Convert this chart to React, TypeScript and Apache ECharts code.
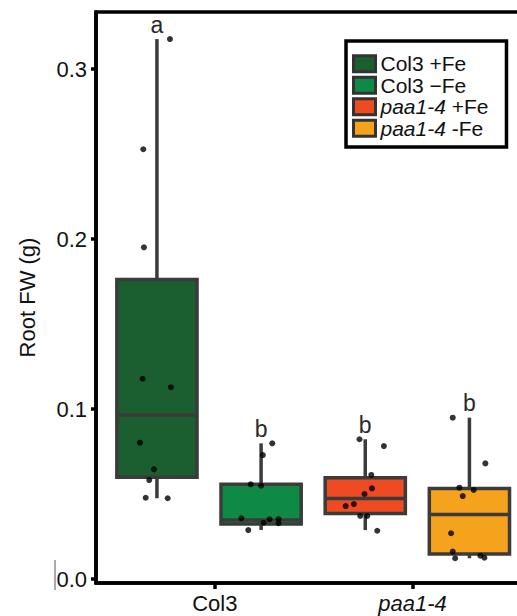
import React, { useEffect, useRef } from "react";
import * as echarts from "echarts";

// ---- data ----
const groupNames = ["Col3 +Fe", "Col3 −Fe", "paa1-4 +Fe", "paa1-4 -Fe"];
const groupColors = ["#1b5e30", "#0e8a45", "#ee4b23", "#f5a31c"];
const groupPositions = [1, 2, 3, 4];
// [lower whisker, Q1, median, Q3, upper whisker]
const boxStats = [
  [0.0475, 0.0598, 0.0965, 0.1762, 0.3176],
  [0.0288, 0.0324, 0.0347, 0.0557, 0.0798],
  [0.0288, 0.0386, 0.0473, 0.0596, 0.0822],
  [0.0122, 0.0147, 0.038, 0.0533, 0.0949],
];
const sigLetters = ["a", "b", "b", "b"];

const col3PlusFeValues = [0.3176, 0.2528, 0.1951, 0.1178, 0.1128, 0.0802, 0.0645, 0.0582, 0.0478, 0.0475];
const col3PlusFeJitter = [0.125, -0.131, -0.125, -0.137, 0.134, -0.163, -0.029, -0.074, -0.108, 0.103];
const col3MinusFeValues = [0.0798, 0.0729, 0.0557, 0.0549, 0.0357, 0.0288, 0.0331, 0.0351, 0.0353, 0.0328];
const col3MinusFeJitter = [0.107, 0.017, -0.1, 0.0, -0.19, -0.123, 0.024, 0.081, 0.168, 0.168];
const paaPlusFeValues = [0.0822, 0.0782, 0.0612, 0.0533, 0.05, 0.0441, 0.0429, 0.0371, 0.0371, 0.0284];
const paaPlusFeJitter = [-0.055, 0.179, 0.058, 0.064, -0.007, -0.109, -0.188, -0.048, 0.019, 0.115];
const paaMinusFeValues = [0.0949, 0.068, 0.0537, 0.0524, 0.0488, 0.0269, 0.0161, 0.0122, 0.0137, 0.0125];
const paaMinusFeJitter = [-0.16, 0.153, -0.096, 0.041, -0.064, -0.176, -0.16, -0.137, 0.105, 0.144];

const pointValues = [col3PlusFeValues, col3MinusFeValues, paaPlusFeValues, paaMinusFeValues];
const pointJitter = [col3PlusFeJitter, col3MinusFeJitter, paaPlusFeJitter, paaMinusFeJitter];

const genotypeLabels = ["Col3", "paa1-4"];
const genotypeTickPositions = [1.556, 3.454];
const yTickValues = [0, 0.1, 0.2, 0.3];
const yAxisTitle = "Root FW (g)";

const FONT = "'Liberation Sans', Arial, sans-serif";
const EDGE = "#3b3b3b";
const BOX_WIDTH = 0.77;

function italicize(name: string) {
  const m = name.match(/^(paa1-4)(.*)$/);
  return m ? `{it|${m[1]}}{rg|${m[2]}}` : `{rg|${name}}`;
}

export default function App() {
  const ref = useRef<HTMLDivElement>(null);
  useEffect(() => {
    document.body.style.margin = "0";
    const chart = echarts.init(ref.current!, null, { renderer: "svg" });

    const boxSeries = groupNames.map((name, gi) => ({
      name,
      type: "custom",
      z: 2,
      itemStyle: { color: groupColors[gi] },
      encode: { x: 0, y: [1, 2, 3, 4, 5] },
      data: [[groupPositions[gi], ...boxStats[gi]]],
      renderItem: (params: any, api: any) => {
        const x = api.value(0);
        const lo = api.coord([x, api.value(1)]);
        const q1 = api.coord([x, api.value(2)]);
        const med = api.coord([x, api.value(3)]);
        const q3 = api.coord([x, api.value(4)]);
        const hi = api.coord([x, api.value(5)]);
        const half = api.size([BOX_WIDTH, 0])[0] / 2;
        const cx = lo[0];
        return {
          type: "group",
          children: [
            { type: "line", shape: { x1: cx, y1: q3[1], x2: cx, y2: hi[1] }, style: { stroke: EDGE, lineWidth: 3.5 } },
            { type: "line", shape: { x1: cx, y1: lo[1], x2: cx, y2: q1[1] }, style: { stroke: EDGE, lineWidth: 3.5 } },
            {
              type: "rect",
              shape: { x: cx - half, y: q3[1], width: half * 2, height: q1[1] - q3[1] },
              style: { fill: groupColors[gi], stroke: EDGE, lineWidth: 3.5 },
            },
            { type: "line", shape: { x1: cx - half, y1: med[1], x2: cx + half, y2: med[1] }, style: { stroke: EDGE, lineWidth: 3.5 } },
            {
              type: "text",
              x: cx,
              y: hi[1] - 3,
              style: {
                text: sigLetters[gi],
                fontSize: 23,
                fontFamily: FONT,
                fill: "#2a2a2a",
                align: "center",
                verticalAlign: "bottom",
              },
            },
          ],
        };
      },
    }));

    const pointSeries = groupNames.map((name, gi) => ({
      name: name + " points",
      type: "scatter",
      z: 5,
      symbol: "circle",
      symbolSize: 6,
      itemStyle: { color: "#000" },
      data: pointValues[gi].map((v, i) => [groupPositions[gi] + pointJitter[gi][i], v]),
    }));

    chart.setOption({
      animation: false,
      grid: {
        left: 96,
        top: 12,
        bottom: 33,
        width: 438,
        outerBoundsMode: "none",
        containLabel: false,
        show: true,
        borderColor: "#000",
        borderWidth: 3.5,
        backgroundColor: "transparent",
      },
      xAxis: {
        type: "value",
        min: 0.415,
        max: 4.62,
        splitLine: { show: false },
        axisLine: { show: true, onZero: false, lineStyle: { color: "#000", width: 3.5 } },
        axisTick: {
          show: true,
          customValues: genotypeTickPositions,
          length: 6,
          lineStyle: { color: "#000", width: 3.5 },
        },
        axisLabel: {
          customValues: genotypeTickPositions,
          margin: 9,
          fontSize: 22,
          fontFamily: FONT,
          color: "#111",
          formatter: (v: number) => {
            let idx = 0;
            let best = Infinity;
            genotypeTickPositions.forEach((p, i) => {
              if (Math.abs(p - v) < best) {
                best = Math.abs(p - v);
                idx = i;
              }
            });
            return italicize(genotypeLabels[idx]);
          },
          rich: {
            it: { fontStyle: "italic", fontSize: 22, fontFamily: FONT, color: "#111" },
            rg: { fontSize: 22, fontFamily: FONT, color: "#111" },
          },
        },
      },
      yAxis: {
        type: "value",
        min: -0.00235,
        max: 0.33353,
        splitLine: { show: false },
        name: yAxisTitle,
        nameLocation: "middle",
        nameGap: 58,
        nameTextStyle: { fontSize: 22, fontFamily: FONT, color: "#111" },
        axisLine: { show: true, onZero: false, lineStyle: { color: "#000", width: 3.5 } },
        axisTick: {
          show: true,
          customValues: yTickValues,
          length: 5,
          lineStyle: { color: "#000", width: 3.5 },
        },
        axisLabel: {
          customValues: yTickValues,
          margin: 9,
          fontSize: 22,
          fontFamily: FONT,
          color: "#111",
          padding: [0, 0, 8, 0],
          formatter: (v: number) => v.toFixed(1),
        },
      },
      legend: {
        data: groupNames,
        orient: "vertical",
        left: 346,
        top: 41,
        padding: [12, 18, 8, 6],
        itemGap: 0,
        itemWidth: 22,
        itemHeight: 16,
        itemTextGap: 5,
        icon: "rect",
        borderColor: "#000",
        borderWidth: 3.5,
        backgroundColor: "#fff",
        itemStyle: { borderColor: "#333", borderWidth: 3 },
        formatter: italicize,
        textStyle: {
          fontSize: 21,
          fontFamily: FONT,
          color: "#111",
          lineHeight: 21.5,
          rich: {
            it: { fontStyle: "italic", fontSize: 21, fontFamily: FONT, color: "#111", lineHeight: 21.5 },
            rg: { fontSize: 21, fontFamily: FONT, color: "#111", lineHeight: 21.5 },
          },
        },
      },
      graphic: [
        {
          type: "line",
          shape: { x1: 55, y1: 560, x2: 55, y2: 590 },
          style: { stroke: "#4a5570", lineWidth: 1 },
        },
      ],
      series: [...boxSeries, ...pointSeries],
    });
    return () => chart.dispose();
  }, []);
  return <div ref={ref} style={{ position: "absolute", left: 0, top: 0, width: 517, height: 616 }} />;
}
